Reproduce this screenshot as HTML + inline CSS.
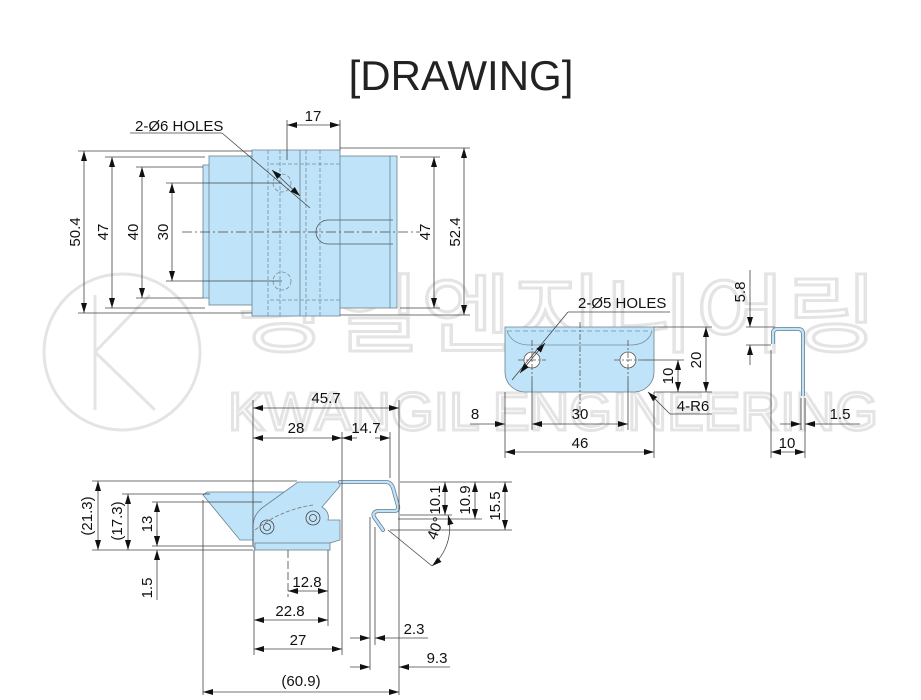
<!DOCTYPE html>
<html><head><meta charset="utf-8"><style>
html,body{margin:0;padding:0;background:#fff;}
svg{display:block;}
text{font-family:"Liberation Sans","Noto Sans CJK KR",sans-serif;}
</style></head><body>
<svg width="921" height="700" viewBox="0 0 921 700" xmlns="http://www.w3.org/2000/svg">
<defs>
<marker id="a" viewBox="0 0 10 6" refX="10" refY="3" markerWidth="10" markerHeight="6" orient="auto-start-reverse" markerUnits="userSpaceOnUse"><path d="M0,0 L10,3 L0,6 z" fill="#111"/></marker>
</defs>
<!-- watermark -->
<g fill="none" stroke="#e4e4e4" stroke-width="3">
<circle cx="122" cy="352" r="78"/>
<path d="M95 295 V410 M95 352 L150 295 M95 352 L155 410"/>
</g>
<text x="238" y="345" font-size="86" fill="#fff" stroke="#e4e4e4" stroke-width="3" textLength="640" lengthAdjust="spacingAndGlyphs">광일엔지니어링</text>
<text x="228" y="430" font-size="54" fill="#fff" stroke="#e4e4e4" stroke-width="3" textLength="650" lengthAdjust="spacingAndGlyphs">KWANGIL ENGINEERING</text>

<text x="461" y="90" font-size="42" fill="#222" text-anchor="middle">[DRAWING]</text>

<g stroke="#444" stroke-width="0.8" fill="none">
<!-- top view shapes -->
<rect x="203" y="165" width="90" height="133" fill="#bfe3f8" stroke="#6b8090"/>
<rect x="209" y="156" width="84" height="149" fill="#bfe3f8" stroke="#6b8090"/>
<rect x="293" y="156" width="104" height="152" fill="#bfe3f8" stroke="#6b8090"/>
<path d="M252 150 H340 V316 H252 Z" fill="#bfe3f8" stroke="#6b8090"/>
<line x1="390" y1="156" x2="390" y2="308" stroke="#6b8090"/>
<line x1="300" y1="150" x2="300" y2="316" stroke="#6b8090"/>
<path d="M393 220 H328 A12 12 0 0 0 328 244 H393" stroke="#555"/>
<g stroke="#7a8ea0" stroke-dasharray="4 2">
<line x1="268" y1="150" x2="268" y2="316"/><line x1="280" y1="150" x2="280" y2="316"/>
<line x1="306" y1="150" x2="306" y2="316"/><line x1="320" y1="150" x2="320" y2="316"/>
<line x1="270" y1="164" x2="342" y2="164"/><line x1="270" y1="300" x2="342" y2="300"/>
<circle cx="282" cy="183" r="9"/><circle cx="282" cy="281" r="9"/>
</g>
<!-- top dims -->
<line x1="78" y1="151" x2="252" y2="151"/><line x1="78" y1="313" x2="252" y2="313"/>
<line x1="105" y1="157" x2="205" y2="157"/><line x1="105" y1="308" x2="205" y2="308"/>
<line x1="136" y1="167" x2="203" y2="167"/><line x1="136" y1="298" x2="203" y2="298"/>
<line x1="166" y1="183" x2="282" y2="183"/><line x1="166" y1="281" x2="282" y2="281"/>
<line x1="84" y1="151" x2="84" y2="313" marker-start="url(#a)" marker-end="url(#a)"/>
<line x1="112" y1="157" x2="112" y2="308" marker-start="url(#a)" marker-end="url(#a)"/>
<line x1="142" y1="167" x2="142" y2="298" marker-start="url(#a)" marker-end="url(#a)"/>
<line x1="172" y1="183" x2="172" y2="281" marker-start="url(#a)" marker-end="url(#a)"/>
<line x1="400" y1="157" x2="440" y2="157"/><line x1="400" y1="308" x2="440" y2="308"/>
<line x1="340" y1="148" x2="470" y2="148"/><line x1="340" y1="315" x2="470" y2="315"/>
<line x1="434" y1="157" x2="434" y2="308" marker-start="url(#a)" marker-end="url(#a)"/>
<line x1="464" y1="148" x2="464" y2="315" marker-start="url(#a)" marker-end="url(#a)"/>
<line x1="287" y1="120" x2="287" y2="160"/><line x1="340" y1="120" x2="340" y2="150"/>
<line x1="287" y1="125" x2="340" y2="125" marker-start="url(#a)" marker-end="url(#a)"/>
<line x1="182" y1="232" x2="420" y2="232" stroke-dasharray="10 3 2 3"/>
<line x1="130" y1="133" x2="222" y2="133"/>
<path d="M222 133 L310 208" /><line x1="272" y1="170" x2="300" y2="196" marker-start="url(#a)" marker-end="url(#a)"/>

<!-- side view -->
<path d="M203 495 L207 492 L300 492 L253 540 L240 540 Z" fill="#bfe3f8" stroke="#6b8090"/>
<path d="M253 527 Q253 515 262 508 L298 482 L340 482 L340 486 L322 507 Q330 512 328 520 L340 520 L340 540 L330 543 L255 550 L253 545 Z" fill="#bfe3f8" stroke="#6b8090"/>
<path d="M340 482 L386 482 Q391 482 393 488 L398 506 Q399 511 394 511 L378 511 Q372 512 374 517 L383 530" stroke="#6b8090" stroke-width="4" stroke-linecap="round"/>
<path d="M340 482 L386 482 Q391 482 393 488 L398 506 Q399 511 394 511 L378 511 Q372 512 374 517 L383 530" stroke="#bfe3f8" stroke-width="2.4" stroke-linecap="round"/>
<rect x="255" y="543" width="75" height="7" fill="#bfe3f8" stroke="#6b8090"/>
<circle cx="267" cy="527" r="7"/><circle cx="267" cy="527" r="3.5"/>
<circle cx="313" cy="518" r="7"/><circle cx="313" cy="518" r="3.5"/>
<path d="M255 530 Q280 510 313 505" stroke="#777" stroke-dasharray="4 2"/>
<!-- side dims -->
<line x1="253" y1="400" x2="253" y2="545"/><line x1="399" y1="400" x2="399" y2="695"/>
<line x1="342" y1="432" x2="342" y2="655"/><line x1="390" y1="432" x2="390" y2="478"/>
<line x1="253" y1="408" x2="399" y2="408" marker-start="url(#a)" marker-end="url(#a)"/>
<line x1="253" y1="438" x2="342" y2="438" marker-start="url(#a)" marker-end="url(#a)"/>
<line x1="342" y1="438" x2="357" y2="438" marker-start="url(#a)"/><line x1="375" y1="438" x2="390" y2="438" marker-end="url(#a)"/>
<line x1="92" y1="481" x2="297" y2="481"/><line x1="92" y1="550" x2="253" y2="550"/>
<line x1="122" y1="494" x2="210" y2="494"/><line x1="152" y1="502" x2="262" y2="502"/>
<line x1="152" y1="546" x2="253" y2="546"/>
<line x1="98" y1="481" x2="98" y2="550" marker-start="url(#a)" marker-end="url(#a)"/>
<line x1="128" y1="494" x2="128" y2="550" marker-start="url(#a)" marker-end="url(#a)"/>
<line x1="157" y1="502" x2="157" y2="546" marker-start="url(#a)" marker-end="url(#a)"/>
<line x1="157" y1="550" x2="157" y2="600" marker-start="url(#a)"/><line x1="157" y1="530" x2="157" y2="546" marker-end="url(#a)"/>
<line x1="400" y1="482" x2="512" y2="482"/><line x1="400" y1="515" x2="452" y2="515"/>
<line x1="398" y1="519" x2="482" y2="519"/><line x1="390" y1="530" x2="512" y2="530"/>
<line x1="445" y1="482" x2="445" y2="515" marker-start="url(#a)" marker-end="url(#a)"/>
<line x1="475" y1="482" x2="475" y2="519" marker-start="url(#a)" marker-end="url(#a)"/>
<line x1="505" y1="482" x2="505" y2="530" marker-start="url(#a)" marker-end="url(#a)"/>
<line x1="388" y1="530" x2="432" y2="566"/>
<path d="M432 566 A50 50 0 0 0 448 515" marker-start="url(#a)" marker-end="url(#a)"/>
<line x1="203" y1="500" x2="203" y2="695"/>
<line x1="288" y1="550" x2="288" y2="597" stroke-dasharray="8 3"/><line x1="328" y1="550" x2="328" y2="626"/>
<line x1="254" y1="550" x2="254" y2="655"/>
<line x1="370" y1="517" x2="370" y2="670"/><line x1="375" y1="527" x2="375" y2="645"/>
<line x1="288" y1="591" x2="328" y2="591" marker-start="url(#a)" marker-end="url(#a)"/>
<line x1="254" y1="620" x2="328" y2="620" marker-start="url(#a)" marker-end="url(#a)"/>
<line x1="254" y1="649" x2="342" y2="649" marker-start="url(#a)" marker-end="url(#a)"/>
<line x1="350" y1="638" x2="370" y2="638" marker-end="url(#a)"/><line x1="375" y1="638" x2="428" y2="638" marker-start="url(#a)"/>
<line x1="350" y1="667" x2="370" y2="667" marker-end="url(#a)"/><line x1="399" y1="667" x2="450" y2="667" marker-start="url(#a)"/>
<line x1="203" y1="692" x2="399" y2="692" marker-start="url(#a)" marker-end="url(#a)"/>

<!-- plate -->
<path d="M505 327 H654 V372 A20 20 0 0 1 634 392 H525 A20 20 0 0 1 505 372 Z" fill="#bfe3f8" stroke="#6b8090"/>
<path d="M507 331 H652" stroke="#7a8ea0" stroke-dasharray="5 3"/>
<path d="M507 331 Q512 345 530 345 H630 Q648 345 652 331" stroke="#7a8ea0"/>
<circle cx="532" cy="360" r="8" fill="#fff" stroke="#555"/><circle cx="628" cy="360" r="8" fill="#fff" stroke="#555"/>
<g stroke-dasharray="6 2 2 2" stroke="#555"><line x1="518" y1="360" x2="546" y2="360"/><line x1="614" y1="360" x2="642" y2="360"/><line x1="580" y1="322" x2="580" y2="415"/><line x1="532" y1="340" x2="532" y2="380"/><line x1="628" y1="340" x2="628" y2="380"/></g>
<line x1="505" y1="392" x2="505" y2="458"/><line x1="654" y1="392" x2="654" y2="458"/>
<line x1="532" y1="380" x2="532" y2="430"/><line x1="628" y1="380" x2="628" y2="430"/>
<line x1="505" y1="452" x2="654" y2="452" marker-start="url(#a)" marker-end="url(#a)"/>
<line x1="532" y1="424" x2="628" y2="424" marker-start="url(#a)" marker-end="url(#a)"/>
<line x1="470" y1="424" x2="505" y2="424" marker-end="url(#a)"/>
<line x1="654" y1="327" x2="712" y2="327"/><line x1="654" y1="392" x2="712" y2="392"/><line x1="642" y1="360" x2="684" y2="360"/>
<line x1="706" y1="327" x2="706" y2="392" marker-start="url(#a)" marker-end="url(#a)"/>
<line x1="678" y1="360" x2="678" y2="392" marker-start="url(#a)" marker-end="url(#a)"/>
<line x1="670" y1="312" x2="568" y2="312"/><line x1="568" y1="312" x2="512" y2="380"/>
<line x1="545" y1="343" x2="520" y2="373" marker-start="url(#a)" marker-end="url(#a)"/>
<line x1="648" y1="392" x2="670" y2="414" marker-start="url(#a)"/><line x1="670" y1="414" x2="712" y2="414"/>
<!-- profile -->
<path d="M773 344 V333 Q773 329 778 329 H798 Q803 329 803 334 V396" stroke="#6b8090" stroke-width="4"/>
<path d="M773 344 V333 Q773 329 778 329 H798 Q803 329 803 334 V396" stroke="#bfe3f8" stroke-width="2.4"/>
<line x1="746" y1="327" x2="775" y2="327"/><line x1="746" y1="345" x2="771" y2="345"/>
<line x1="750" y1="270" x2="750" y2="327" marker-end="url(#a)"/><line x1="750" y1="345" x2="750" y2="365" marker-start="url(#a)"/>
<line x1="771" y1="350" x2="771" y2="458"/><line x1="805" y1="398" x2="805" y2="458"/><line x1="801" y1="398" x2="801" y2="430"/>
<line x1="771" y1="452" x2="805" y2="452" marker-start="url(#a)" marker-end="url(#a)"/>
<line x1="780" y1="424" x2="801" y2="424" marker-end="url(#a)"/><line x1="805" y1="424" x2="860" y2="424" marker-start="url(#a)"/>
</g>

<g fill="#111" font-size="15">
<text x="135" y="131">2-Ø6 HOLES</text>
<text x="313" y="121" text-anchor="middle">17</text>
<text transform="translate(80,232) rotate(-90)" text-anchor="middle">50.4</text>
<text transform="translate(108,232) rotate(-90)" text-anchor="middle">47</text>
<text transform="translate(138,232) rotate(-90)" text-anchor="middle">40</text>
<text transform="translate(168,232) rotate(-90)" text-anchor="middle">30</text>
<text transform="translate(430,232) rotate(-90)" text-anchor="middle">47</text>
<text transform="translate(460,232) rotate(-90)" text-anchor="middle">52.4</text>
<text x="326" y="403" text-anchor="middle">45.7</text>
<text x="296" y="433" text-anchor="middle">28</text>
<text x="366" y="433" text-anchor="middle">14.7</text>
<text transform="translate(92,516) rotate(-90)" text-anchor="middle">(21.3)</text>
<text transform="translate(122,521) rotate(-90)" text-anchor="middle">(17.3)</text>
<text transform="translate(152,524) rotate(-90)" text-anchor="middle">13</text>
<text transform="translate(152,588) rotate(-90)" text-anchor="middle">1.5</text>
<text transform="translate(440,500) rotate(-90)" text-anchor="middle">10.1</text>
<text transform="translate(470,500) rotate(-90)" text-anchor="middle">10.9</text>
<text transform="translate(500,506) rotate(-90)" text-anchor="middle">15.5</text>
<text transform="translate(440,530) rotate(-70)" text-anchor="middle">40°</text>
<text x="307" y="587" text-anchor="middle">12.8</text>
<text x="290" y="616" text-anchor="middle">22.8</text>
<text x="298" y="645" text-anchor="middle">27</text>
<text x="414" y="634" text-anchor="middle">2.3</text>
<text x="437" y="663" text-anchor="middle">9.3</text>
<text x="301" y="686" text-anchor="middle">(60.9)</text>
<text x="578" y="308">2-Ø5 HOLES</text>
<text x="475" y="419" text-anchor="middle">8</text>
<text x="580" y="419" text-anchor="middle">30</text>
<text x="580" y="448" text-anchor="middle">46</text>
<text transform="translate(701,360) rotate(-90)" text-anchor="middle">20</text>
<text transform="translate(673,376) rotate(-90)" text-anchor="middle">10</text>
<text x="693" y="411" text-anchor="middle">4-R6</text>
<text transform="translate(745,292) rotate(-90)" text-anchor="middle">5.8</text>
<text x="840" y="419" text-anchor="middle">1.5</text>
<text x="787" y="448" text-anchor="middle">10</text>
</g>
</svg>
</body></html>
